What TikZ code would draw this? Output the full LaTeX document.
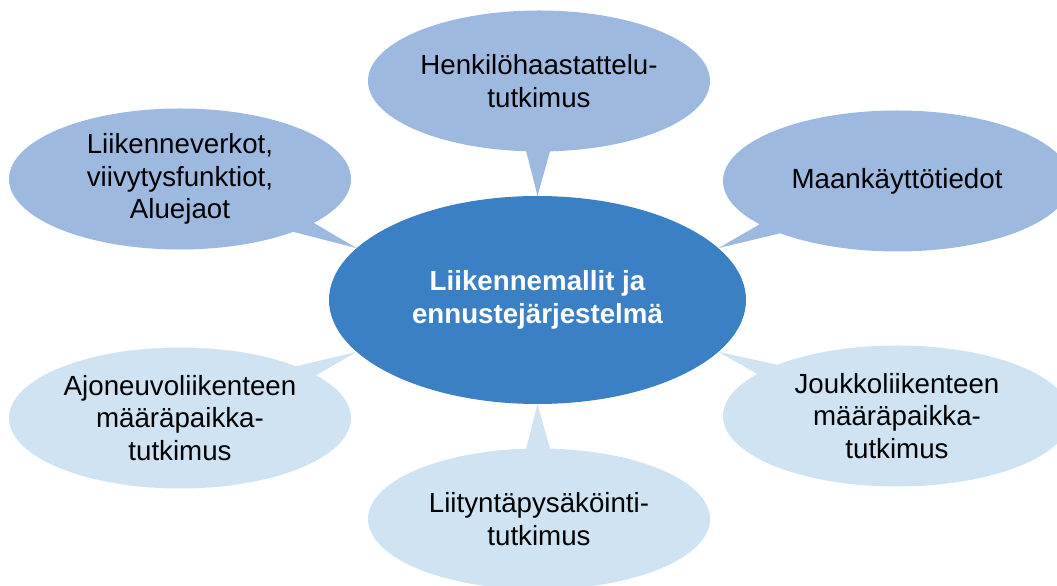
\documentclass[tikz,border=0pt]{standalone}
\usepackage{fontspec}
\setmainfont{Liberation Sans}
\usepackage{tikz}
\usetikzlibrary{shapes.geometric,shapes.callouts}

\definecolor{coreBlue}{RGB}{59,128,196}
\definecolor{midBlue}{RGB}{157,185,224}
\definecolor{paleBlue}{RGB}{207,227,243}
\newcommand{\bubblefont}{\fontsize{27.7}{32.5}\selectfont}

\begin{document}
\begin{tikzpicture}[x=1pt, y=1pt,
    every node/.style={font=\bubblefont, align=center, inner sep=0pt},
    bubble/.style={ellipse callout, callout pointer arc=8, minimum width=342pt, minimum height=141pt, text=black},
    sideBubble/.style={callout pointer arc=10},
    darkBubble/.style={bubble, fill=midBlue},
    lightBubble/.style={bubble, fill=paleBlue}]

\useasboundingbox (0,0) rectangle (1057,586);

% Central ellipse
\node[ellipse, fill=coreBlue, text=white, font={\bubblefont\bfseries},
      minimum width=417pt, minimum height=208pt] (core) at (537.5,286) {Liikennemallit ja\\ennustejärjestelmä};

% Upper bubbles
\node[darkBubble, callout absolute pointer={(core.90)}] (haastattelu) at (539,505) {Henkilöhaastattelu-\\tutkimus};
\node[darkBubble, sideBubble, callout absolute pointer={(core.164)}] (verkot) at (180,407) {Liikenneverkot,\\viivytysfunktiot,\\Aluejaot};
\node[darkBubble, sideBubble, minimum width=348pt, callout absolute pointer={(core.16)}] (maankaytto) at (897,405) {Maankäyttötiedot};

% Lower bubbles
\node[lightBubble, sideBubble, callout absolute pointer={(core.196)}] (ajoneuvo) at (180,168) {Ajoneuvoliikenteen\\määräpaikka-\\tutkimus};
\node[lightBubble, sideBubble, minimum width=348pt, callout absolute pointer={(core.344)}] (joukko) at (897,170) {Joukkoliikenteen\\määräpaikka-\\tutkimus};
\node[lightBubble, callout absolute pointer={(core.270)}] (liityntä) at (539,67) {Liityntäpysäköinti-\\tutkimus};

\end{tikzpicture}
\end{document}
